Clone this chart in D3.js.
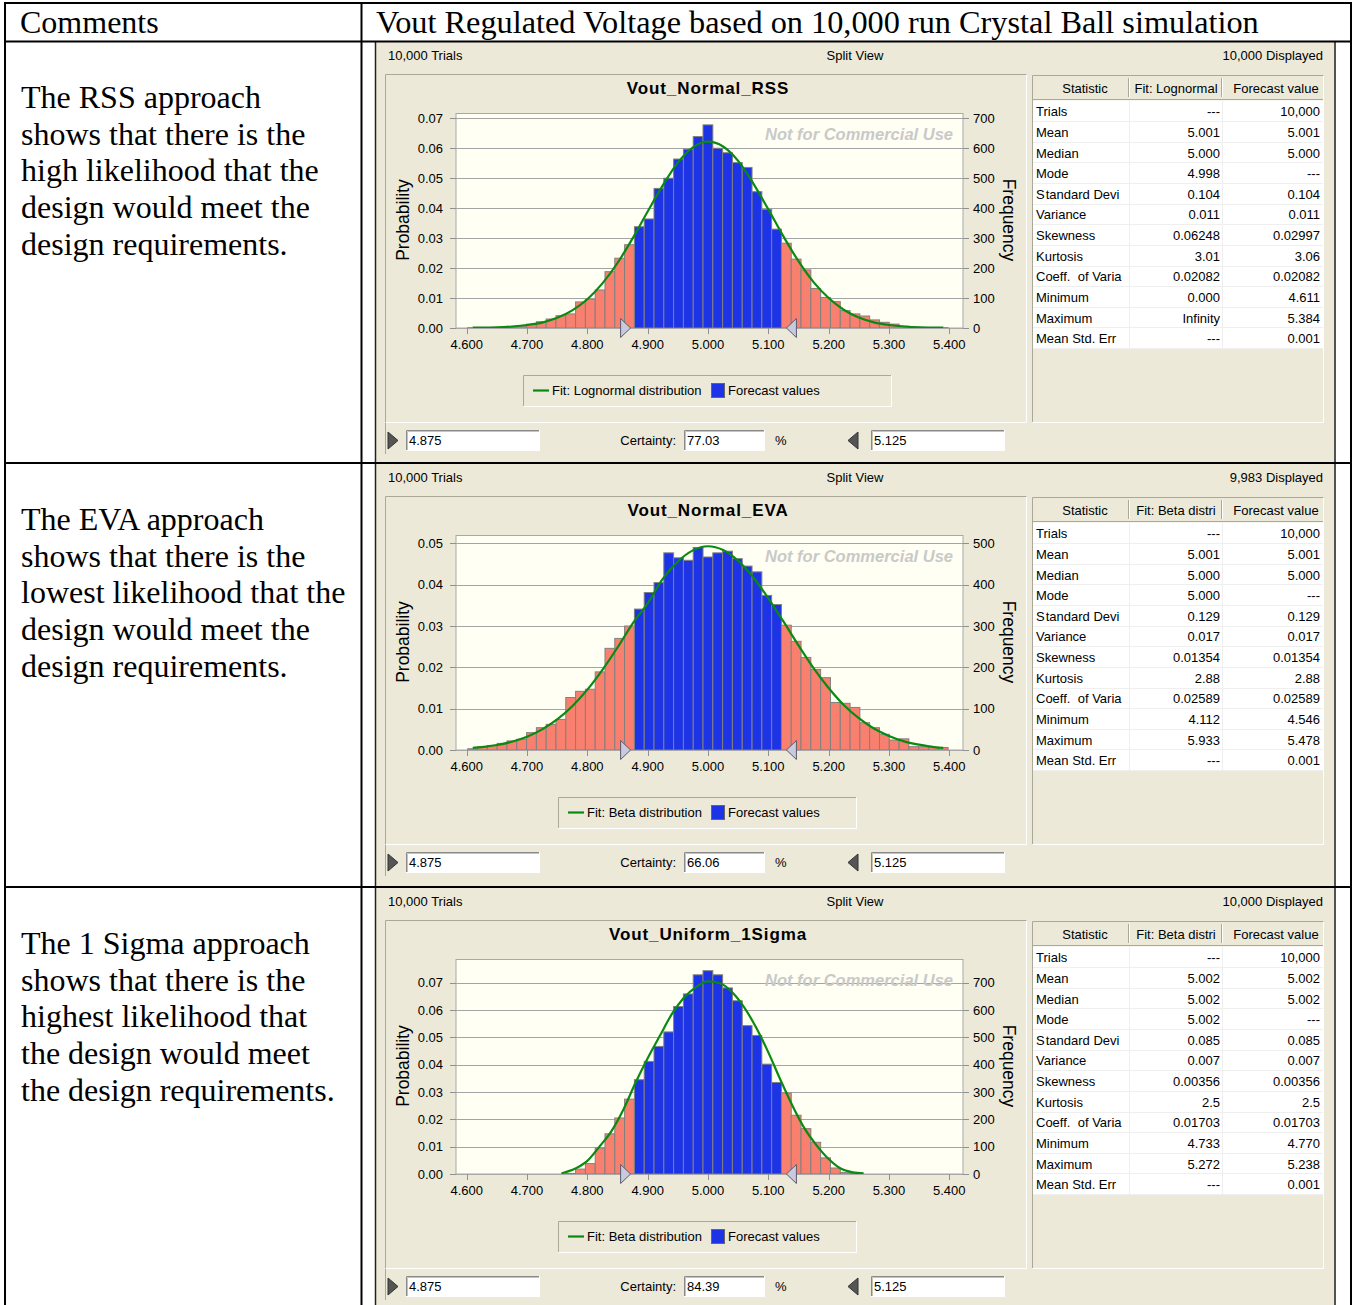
<!DOCTYPE html>
<html><head><meta charset="utf-8">
<script src="https://cdn.jsdelivr.net/npm/d3@7/dist/d3.min.js"></script>
<style>
body{margin:0;background:#fff;}
svg{display:block;}
.ui{font-family:"Liberation Sans",Arial,sans-serif;}
.serif{font-family:"Liberation Serif","Times New Roman",serif;}
</style></head><body>
<svg id="chart" width="1354" height="1305"></svg>
<script>
// ---------------- DATA ----------------
const headerLeft = "Comments";
const headerRight = "Vout Regulated Voltage based on 10,000 run Crystal Ball simulation";
const rssComment = ["The RSS approach","shows that there is the","high likelihood that the","design would meet the","design requirements."];
const evaComment = ["The EVA approach","shows that there is the","lowest likelihood that the","design would meet the","design requirements."];
const sigmaComment = ["The 1 Sigma approach","shows that there is the","highest likelihood that","the design would meet","the design requirements."];

const chartTitles = ["Vout_Normal_RSS","Vout_Normal_EVA","Vout_Uniform_1Sigma"];
const fitLegends = ["Fit: Lognormal distribution","Fit: Beta distribution","Fit: Beta distribution"];
const fitHeaders = ["Fit: Lognormal","Fit: Beta distri","Fit: Beta distri"];
const trialsLabels = ["10,000 Trials","10,000 Trials","10,000 Trials"];
const displayedLabels = ["10,000 Displayed","9,983 Displayed","10,000 Displayed"];
const certainties = ["77.03","66.06","84.39"];
const lowerBound = "4.875", upperBound = "5.125";

const binWidth = 0.01625;
const firstBinEdge = 4.60175;
const certaintyLow = 4.875, certaintyHigh = 5.125;
const xTickValues = [4.6,4.7,4.8,4.9,5.0,5.1,5.2,5.3,5.4];

// frequency counts per bin (10,000 trials)
const rssCounts = [1,1,1,2,4,7,13,21,30,41,47,87,96,127,188,233,278,
  338,364,466,500,564,597,639,678,600,585,552,536,455,396,330,
  283,230,194,132,102,88,58,47,40,27,19,13,6,3,2,1,1];
const evaCounts = [3,7,11,16,22,26,42,54,62,74,127,142,147,189,246,270,300,
  341,381,405,477,465,459,490,467,477,481,463,445,431,374,352,
  302,263,224,195,175,115,113,103,66,54,38,24,27,8,8,7,6];
const sigmaCounts = [0,0,0,0,0,0,0,0,0,0,2,18,38,95,147,205,274,
  345,412,467,520,613,659,729,744,729,681,634,543,507,402,335,
  296,215,166,116,59,22,6,2,0,0,0,0,0,0,0,0,0];

// fitted curves (frequency units)
const rssCurveX = [4.61,4.625,4.65,4.675,4.70,4.725,4.75,4.775,4.80,4.825,4.85,4.875,4.90,4.925,4.95,4.975,5.00,5.025,5.05,5.075,5.10,5.125,5.15,5.175,5.20,5.225,5.25,5.275,5.30,5.325,5.35,5.375,5.39];
const rssCurveY = [1,1,2,5,10,18,34,59,96,149,217,299,389,476,552,603,622,606,558,483,396,306,223,153,100,61,35,19,10,5,2,1,1];
const evaCurveX = [4.61,4.625,4.65,4.675,4.70,4.725,4.75,4.775,4.80,4.825,4.85,4.875,4.90,4.925,4.95,4.975,5.00,5.025,5.05,5.075,5.10,5.125,5.15,5.175,5.20,5.225,5.25,5.275,5.30,5.325,5.35,5.375,5.39];
const evaCurveY = [5,7,12,20,32,50,74,106,146,194,248,306,355,414,456,483,493,484,458,418,367,311,253,198,150,109,77,52,34,21,13,7,5];
const sigmaCurveX = [4.757,4.78,4.80,4.82,4.84,4.86,4.88,4.90,4.92,4.94,4.96,4.98,5.00,5.02,5.04,5.06,5.08,5.10,5.12,5.14,5.16,5.18,5.20,5.22,5.24,5.258];
const sigmaCurveY = [2,20,48,100,157,237,335,424,505,585,645,684,705,698,665,610,535,445,345,250,167,105,55,20,6,2];

const rssProbTicks = [0,0.01,0.02,0.03,0.04,0.05,0.06,0.07];
const evaProbTicks = [0,0.01,0.02,0.03,0.04,0.05];
const sigmaProbTicks = [0,0.01,0.02,0.03,0.04,0.05,0.06,0.07];
const rssFreqTicks = [0,100,200,300,400,500,600,700];
const evaFreqTicks = [0,100,200,300,400,500];
const sigmaFreqTicks = [0,100,200,300,400,500,600,700];
const probAxisTop = [0.0716,0.0519,0.0785];

const statNames = ["Trials","Mean","Median","Mode","S\u200Atandard Devi","Variance","Skewness","Kurtosis","Coeff.\u00A0 of Varia","Minimum","Maximum","Mean Std. Err"];
const rssFit = ["---","5.001","5.000","4.998","0.104","0.011","0.06248","3.01","0.02082","0.000","Infinity","---"];
const rssForecast = ["10,000","5.001","5.000","---","0.104","0.011","0.02997","3.06","0.02082","4.611","5.384","0.001"];
const evaFit = ["---","5.001","5.000","5.000","0.129","0.017","0.01354","2.88","0.02589","4.112","5.933","---"];
const evaForecast = ["10,000","5.001","5.000","---","0.129","0.017","0.01354","2.88","0.02589","4.546","5.478","0.001"];
const sigmaFit = ["---","5.002","5.002","5.002","0.085","0.007","0.00356","2.5","0.01703","4.733","5.272","---"];
const sigmaForecast = ["10,000","5.002","5.002","---","0.085","0.007","0.00356","2.5","0.01703","4.770","5.238","0.001"];

// ---------------- LAYOUT ----------------
const svg = d3.select("#chart");
const UI = "ui";
const BEIGE = "#ECE9D8", PLOTBG = "#FFFFF3", GRID = "#A4A4A4";
const BLUE = "#1C33E6", SALMON = "#F9806F", GREEN = "#0B8A12";

const panels = [
  {y0:42, h:420, counts:rssCounts, cx:rssCurveX, cy:rssCurveY, pt:rssProbTicks, ft:rssFreqTicks, fit:rssFit, fc:rssForecast, comment:rssComment, cBase:108, legendX:[523,891]},
  {y0:464, h:422, counts:evaCounts, cx:evaCurveX, cy:evaCurveY, pt:evaProbTicks, ft:evaFreqTicks, fit:evaFit, fc:evaForecast, comment:evaComment, cBase:530, legendX:[558,856]},
  {y0:888, h:417, counts:sigmaCounts, cx:sigmaCurveX, cy:sigmaCurveY, pt:sigmaProbTicks, ft:sigmaFreqTicks, fit:sigmaFit, fc:sigmaForecast, comment:sigmaComment, cBase:954, legendX:[558,856]}
];

const xs = d3.scaleLinear().domain([4.6,5.4]).range([466.7,949.3]);
const plotL = 456, plotR = 963, plotT = 71.5, plotB = 286;

function text(g, x, y, s, opts={}) {
  const t = g.append("text").attr("x",x).attr("y",y).text(s)
    .attr("class", opts.cls || UI)
    .attr("font-size", opts.size || 13)
    .attr("fill", opts.fill || "#000")
    .attr("text-anchor", opts.anchor || "start");
  if (opts.weight) t.attr("font-weight", opts.weight);
  if (opts.style) t.attr("font-style", opts.style);
  if (opts.ls) t.attr("letter-spacing", opts.ls);
  if (opts.transform) t.attr("transform", opts.transform);
  return t;
}

function inputBox(g, x, y, w, h, s) {
  g.append("rect").attr("x",x).attr("y",y).attr("width",w).attr("height",h).attr("fill","#fff");
  g.append("path").attr("d",`M${x+0.5},${y+h}V${y+0.5}H${x+w}`).attr("stroke","#8A8A8A").attr("fill","none");
  g.append("path").attr("d",`M${x+1.5},${y+h-1}V${y+1.5}H${x+w-1}`).attr("stroke","#C8C4B4").attr("fill","none");
  g.append("path").attr("d",`M${x},${y+h-0.5}H${x+w-0.5}V${y}`).attr("stroke","#fff").attr("fill","none");
  text(g, x+3, y+h/2+4.5, s);
}

panels.forEach((p, idx) => {
  const g = svg.append("g").attr("transform", `translate(0,${p.y0})`);
  // screenshot background
  g.append("rect").attr("x",375).attr("y",0).attr("width",961).attr("height",p.h).attr("fill",BEIGE);
  g.append("line").attr("x1",375.5).attr("x2",375.5).attr("y1",0).attr("y2",p.h).attr("stroke","#222").attr("stroke-width",1.5);
  g.append("line").attr("x1",1335).attr("x2",1335).attr("y1",0).attr("y2",p.h).attr("stroke","#222").attr("stroke-width",1.5);

  // header line
  text(g, 388, 18, trialsLabels[idx]);
  text(g, 855, 18, "Split View", {anchor:"middle"});
  text(g, 1323, 18, displayedLabels[idx], {anchor:"end"});

  // chart frame
  g.append("path").attr("d","M385.5,412V32.5H1027").attr("stroke","#ACA899").attr("fill","none");
  g.append("path").attr("d","M385.5,380.5H1026.5V32.5").attr("stroke","#fff").attr("fill","none");
  g.append("path").attr("d","M1032.5,380V33.5H1324").attr("stroke","#ACA899").attr("fill","none");
  g.append("path").attr("d","M1032.5,380.5H1323.5V33.5").attr("stroke","#fff").attr("fill","none");

  // title
  text(g, 708, 52, chartTitles[idx], {anchor:"middle", size:17, weight:"bold", ls:0.9});

  // scales
  const ys = d3.scaleLinear().domain([0, probAxisTop[idx]]).range([plotB, plotT]);
  // plot area
  g.append("rect").attr("x",plotL).attr("y",plotT).attr("width",plotR-plotL).attr("height",plotB-plotT)
    .attr("fill",PLOTBG).attr("stroke","#A8A8A8");
  // gridlines
  g.selectAll(".grid").data(p.pt).enter().append("line")
    .attr("x1",plotL).attr("x2",plotR).attr("y1",d=>Math.round(ys(d))+0.5).attr("y2",d=>Math.round(ys(d))+0.5)
    .attr("stroke",GRID);
  // watermark
  text(g, 953, 98, "Not for Commercial Use", {anchor:"end", size:16.5, weight:"bold", style:"italic", fill:"#C9C9C9"});

  // bars
  const bars = p.counts.map((c,i)=>({c, x0:firstBinEdge+i*binWidth})).filter(d=>d.c>0);
  g.selectAll(".bar").data(bars).enter().append("rect")
    .attr("x",d=>xs(d.x0)).attr("width",d=>xs(d.x0+binWidth)-xs(d.x0))
    .attr("y",d=>ys(d.c/10000)).attr("height",d=>ys(0)-ys(d.c/10000))
    .attr("fill",d=>{const m=d.x0+binWidth/2; return (m>=certaintyLow && m<=certaintyHigh)?BLUE:SALMON;})
    .attr("stroke","#808080").attr("stroke-width",1);

  // fit curve
  const line = d3.line().x(d=>xs(d[0])).y(d=>ys(d[1]/10000)).curve(d3.curveMonotoneX);
  g.append("path").attr("d", line(p.cx.map((x,i)=>[x,p.cy[i]])))
    .attr("fill","none").attr("stroke",GREEN).attr("stroke-width",2.2);

  // bottom axis line
  g.append("line").attr("x1",plotL).attr("x2",plotR).attr("y1",plotB+0.5).attr("y2",plotB+0.5).attr("stroke","#A8A8A8");
  // x ticks
  xTickValues.forEach(v=>{
    g.append("line").attr("x1",Math.round(xs(v))+0.5).attr("x2",Math.round(xs(v))+0.5).attr("y1",plotB).attr("y2",plotB+6).attr("stroke","#909090");
    text(g, xs(v), 307, d3.format(".3f")(v), {anchor:"middle"});
  });
  // left axis
  p.pt.forEach(v=>{
    g.append("line").attr("x1",450).attr("x2",plotL).attr("y1",Math.round(ys(v))+0.5).attr("y2",Math.round(ys(v))+0.5).attr("stroke","#909090");
    text(g, 443, ys(v)+4.5, d3.format(".2f")(v), {anchor:"end"});
  });
  // right axis
  p.ft.forEach(v=>{
    g.append("line").attr("x1",plotR).attr("x2",969).attr("y1",Math.round(ys(v/10000))+0.5).attr("y2",Math.round(ys(v/10000))+0.5).attr("stroke","#909090");
    text(g, 973, ys(v/10000)+4.5, String(v));
  });
  text(g, 0, 0, "Probability", {anchor:"middle", size:17.5, transform:`translate(409,178) rotate(-90)`});
  text(g, 0, 0, "Frequency", {anchor:"middle", size:17.5, transform:`translate(1003,178) rotate(90)`});

  // certainty markers
  const tl = xs(certaintyLow)-2, th = xs(certaintyHigh)+3;
  g.append("path").attr("d",`M${tl-10},${plotB-9.5}L${tl},${plotB}L${tl-10},${plotB+9.5}Z`).attr("fill","#C8C8DE").attr("stroke","#5A5A6A");
  g.append("path").attr("d",`M${th+10},${plotB-9.5}L${th},${plotB}L${th+10},${plotB+9.5}Z`).attr("fill","#C8C8DE").attr("stroke","#5A5A6A");

  // legend
  const [lx0, lx1] = p.legendX;
  g.append("path").attr("d",`M${lx0+0.5},364V333.5H${lx1}`).attr("stroke","#ACA899").attr("fill","none");
  g.append("path").attr("d",`M${lx0+0.5},364.5H${lx1+0.5}V333.5`).attr("stroke","#fff").attr("fill","none");
  g.append("line").attr("x1",lx0+10).attr("x2",lx0+26).attr("y1",348.5).attr("y2",348.5).attr("stroke",GREEN).attr("stroke-width",2.2);
  text(g, lx0+29, 353, fitLegends[idx]);
  g.append("rect").attr("x",711.5).attr("y",341.5).attr("width",13).attr("height",14).attr("fill",BLUE).attr("stroke","#666");
  text(g, 728, 353, "Forecast values");

  // stats table
  const hdrT = 34, hdrB = 57, rowH = 20.64, row0 = 59.4;
  g.append("rect").attr("x",1033).attr("y",row0-1).attr("width",290).attr("height",rowH*statNames.length+1).attr("fill","#fff");
  g.append("line").attr("x1",1033).attr("x2",1323).attr("y1",hdrB+0.5).attr("y2",hdrB+0.5).attr("stroke","#ACA899");
  [1129,1222].forEach(x=>{
    g.append("line").attr("x1",x-0.5).attr("x2",x-0.5).attr("y1",hdrT+2).attr("y2",hdrB-2).attr("stroke","#ACA899");
    g.append("line").attr("x1",x+0.5).attr("x2",x+0.5).attr("y1",hdrT+2).attr("y2",hdrB-2).attr("stroke","#fff");
  });
  text(g, 1085, 51, "Statistic", {anchor:"middle"});
  text(g, 1176, 51, fitHeaders[idx], {anchor:"middle"});
  text(g, 1276, 51, "Forecast value", {anchor:"middle"});
  statNames.forEach((s,i)=>{
    const cy = row0 + rowH*i + rowH/2 + 4.5;
    g.append("line").attr("x1",1033).attr("x2",1323).attr("y1",Math.round(row0+rowH*(i+1))-0.5).attr("y2",Math.round(row0+rowH*(i+1))-0.5).attr("stroke","#EFEFEF");
    text(g, 1036, cy, s);
    text(g, 1220, cy, p.fit[i], {anchor:"end"});
    text(g, 1320, cy, p.fc[i], {anchor:"end"});
  });
  [1129,1222].forEach(x=>{
    g.append("line").attr("x1",x+0.5).attr("x2",x+0.5).attr("y1",row0-1).attr("y2",row0+rowH*statNames.length).attr("stroke","#EFEFEF");
  });

  // bottom controls
  g.append("path").attr("d","M388,390L398,398.5L388,407Z").attr("fill","#555").attr("stroke","#333");
  inputBox(g, 406, 388, 134, 21, lowerBound);
  text(g, 676, 403, "Certainty:", {anchor:"end"});
  inputBox(g, 684, 388, 81, 21, certainties[idx]);
  text(g, 775, 403, "%");
  g.append("path").attr("d","M858,390L848,398.5L858,407Z").attr("fill","#555").attr("stroke","#333");
  inputBox(g, 871, 388, 134, 21, upperBound);

  // comments
  p.comment.forEach((s,i)=>{
    text(svg, 21, p.cBase + i*36.7, s, {cls:"serif", size:32});
  });
});

// header row
text(svg, 20, 33, headerLeft, {cls:"serif", size:32});
text(svg, 376, 33, headerRight, {cls:"serif", size:32.3});

// table lines
const T = svg.append("g").attr("stroke","#000").attr("stroke-width",2);
T.append("line").attr("x1",4).attr("x2",1352).attr("y1",3).attr("y2",3);
T.append("line").attr("x1",4).attr("x2",1352).attr("y1",41.5).attr("y2",41.5);
T.append("line").attr("x1",4).attr("x2",1352).attr("y1",463).attr("y2",463);
T.append("line").attr("x1",4).attr("x2",1352).attr("y1",887).attr("y2",887);
T.append("line").attr("x1",5).attr("x2",5).attr("y1",2).attr("y2",1305);
T.append("line").attr("x1",361.5).attr("x2",361.5).attr("y1",2).attr("y2",1305);
T.append("line").attr("x1",1351).attr("x2",1351).attr("y1",2).attr("y2",1305);
</script>
</body></html>
